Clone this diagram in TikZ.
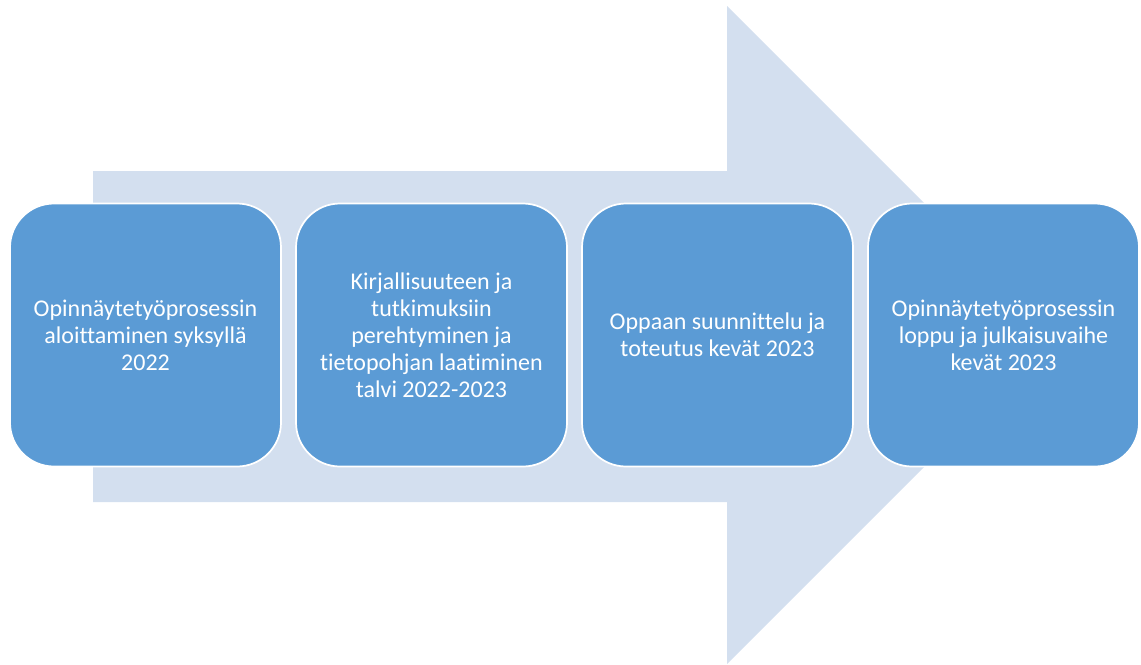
\documentclass[tikz,border=0pt]{standalone}
\usepackage{fontspec}
\setmainfont{Carlito}[Ligatures=NoCommon]
\usepackage{xcolor}
\usetikzlibrary{positioning}
\definecolor{boxblue}{RGB}{91,155,213}
\definecolor{arrowblue}{RGB}{211,223,239}

\begin{document}
\begin{tikzpicture}[x=0.75pt,y=-0.75pt,line cap=round,line join=round,
  vaihe/.style={draw=white,line width=1.3pt,fill=boxblue,rounded corners=33pt,
    minimum width=203.25pt,minimum height=197.25pt,outer sep=0pt,inner sep=0pt,
    text=white,align=center,font=\fontsize{18}{20.25}\selectfont}]
\useasboundingbox (0,0) rectangle (1141,664);
% big arrow behind the steps
\fill[arrowblue] (93,171) -- (727,171) -- (727,6) -- (1056,335)
      -- (727,664) -- (727,502) -- (93,502) -- cycle;
% steps
\node[vaihe] (P1) at (145.5,335) {Opinnäytetyöprosessin\\aloittaminen syksyllä\\2022};
\node[vaihe,right=11.25pt of P1] (P2) {Kirjallisuuteen ja\\tutkimuksiin\\perehtyminen ja\\tietopohjan laatiminen\\talvi 2022-2023};
\node[vaihe,right=11.25pt of P2] (P3) {Oppaan suunnittelu ja\\toteutus kevät 2023};
\node[vaihe,right=11.25pt of P3] (P4) {Opinnäytetyöprosessin\\loppu ja julkaisuvaihe\\kevät 2023};
%\draw[->] (P1) -- (P4);
\end{tikzpicture}
\end{document}
